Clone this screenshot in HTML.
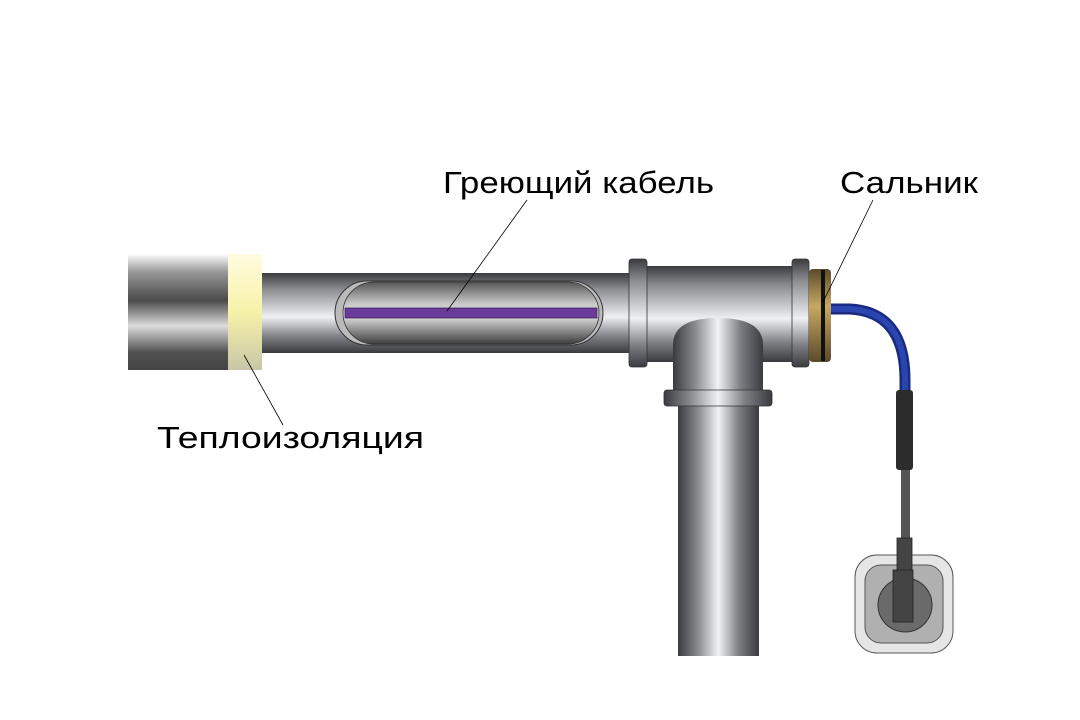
<!DOCTYPE html>
<html><head><meta charset="utf-8"><style>html,body{margin:0;padding:0;background:#fff}svg{display:block}</style></head>
<body>
<svg width="1080" height="720" viewBox="0 0 1080 720" xmlns="http://www.w3.org/2000/svg">
<defs>
<linearGradient id="h" x1="0" y1="0" x2="0" y2="1">
<stop offset="0" stop-color="#3a3b3f"/><stop offset="0.2" stop-color="#8a8c90"/><stop offset="0.55" stop-color="#eef0f4"/><stop offset="0.8" stop-color="#7c7e83"/><stop offset="1" stop-color="#3a3b3f"/></linearGradient>
<linearGradient id="ins" x1="0" y1="0" x2="0" y2="1">
<stop offset="0" stop-color="#fff"/><stop offset="0.15" stop-color="#9a9a9a"/><stop offset="0.4" stop-color="#4a4a4a"/><stop offset="0.62" stop-color="#dcdcdc"/><stop offset="0.85" stop-color="#505050"/><stop offset="1" stop-color="#444"/></linearGradient>
<linearGradient id="yel" x1="0" y1="0" x2="0" y2="1">
<stop offset="0" stop-color="#fffbe0"/><stop offset="0.5" stop-color="#f7f2a8"/><stop offset="1" stop-color="#c8c6a8"/></linearGradient>
<linearGradient id="win" x1="0" y1="0" x2="0" y2="1">
<stop offset="0" stop-color="#555"/><stop offset="0.35" stop-color="#c8c8c8"/><stop offset="0.55" stop-color="#e0e0e0"/><stop offset="1" stop-color="#3e3e3e"/></linearGradient>
<linearGradient id="v" x1="0" y1="0" x2="1" y2="0">
<stop offset="0" stop-color="#3a3b3f"/><stop offset="0.25" stop-color="#8a8c90"/><stop offset="0.5" stop-color="#f0f2f6"/><stop offset="0.75" stop-color="#7c7e83"/><stop offset="1" stop-color="#3a3b3f"/></linearGradient>
<linearGradient id="br" x1="0" y1="0" x2="0" y2="1">
<stop offset="0" stop-color="#5a4a2a"/><stop offset="0.4" stop-color="#c8a862"/><stop offset="1" stop-color="#5a4a2a"/></linearGradient>
</defs>
<!-- insulation -->
<rect x="128" y="254" width="100" height="116" fill="url(#ins)"/>
<rect x="228" y="254" width="34" height="116" fill="url(#yel)"/>
<!-- horizontal pipe -->
<rect x="262" y="273" width="370" height="80" fill="url(#h)"/>
<rect x="335" y="281" width="268" height="64" rx="32" fill="#bbb" stroke="#333" stroke-width="1"/>
<rect x="343" y="282" width="256" height="62" rx="31" fill="url(#win)" stroke="#333" stroke-width="0.8"/>
<rect x="345" y="308" width="252" height="10" fill="#6a3a9a" stroke="#3a1a5a" stroke-width="0.7"/>
<!-- tee body -->
<rect x="647" y="266" width="145" height="96" fill="url(#h)"/>
<rect x="629" y="259" width="18" height="108" rx="3" fill="url(#h)" stroke="#333" stroke-width="0.8"/>
<rect x="792" y="259" width="17" height="108" rx="3" fill="url(#h)" stroke="#333" stroke-width="0.8"/>
<!-- brass gland -->
<rect x="809" y="269" width="22" height="93" rx="4" fill="url(#br)"/>
<rect x="821" y="270" width="4" height="91" fill="#111"/>
<!-- branch -->
<path d="M673 406 L673 345 Q673 318 718 318 Q763 318 763 345 L763 406 Z" fill="url(#v)"/>
<rect x="678" y="406" width="81" height="250" fill="url(#v)"/>
<rect x="664" y="390" width="108" height="16" rx="3" fill="url(#v)" stroke="#333" stroke-width="0.8"/>
<!-- cable -->
<path d="M831 309 L850 309 Q905 312 905 380 L905 392" fill="none" stroke="#1a2a80" stroke-width="11"/>
<path d="M831 309 L850 309 Q905 312 905 380 L905 392" fill="none" stroke="#2a45b0" stroke-width="6"/>
<rect x="896" y="390" width="17" height="80" rx="3" fill="#2c2c2c"/>
<rect x="901" y="470" width="9" height="70" fill="#555"/>
<!-- socket -->
<rect x="855" y="555" width="98" height="98" rx="22" fill="#e6e6e6" stroke="#555" stroke-width="1"/>
<rect x="865" y="565" width="78" height="78" rx="16" fill="#b0b0b0" stroke="#555" stroke-width="1"/>
<circle cx="905" cy="605" r="27" fill="#6a6a6a" stroke="#333" stroke-width="1"/>
<rect x="897" y="538" width="15" height="35" fill="#444" stroke="#222" stroke-width="0.8"/>
<rect x="893" y="570" width="20" height="52" fill="#444" stroke="#222" stroke-width="0.8"/>
<!-- leaders -->
<line x1="527" y1="200" x2="447" y2="311" stroke="#000" stroke-width="0.8"/>
<line x1="873" y1="200" x2="823" y2="302" stroke="#000" stroke-width="0.8"/>
<line x1="244" y1="355" x2="283" y2="425" stroke="#000" stroke-width="0.8"/>
<!-- labels -->
<g font-family="Liberation Sans, Arial, sans-serif" font-size="31" fill="#000">
<text x="443" y="193" textLength="271" lengthAdjust="spacingAndGlyphs">Греющий кабель</text>
<text x="840" y="193" textLength="138" lengthAdjust="spacingAndGlyphs">Сальник</text>
<text x="157" y="448" textLength="267" lengthAdjust="spacingAndGlyphs">Теплоизоляция</text>
</g>
</svg>
</body></html>
